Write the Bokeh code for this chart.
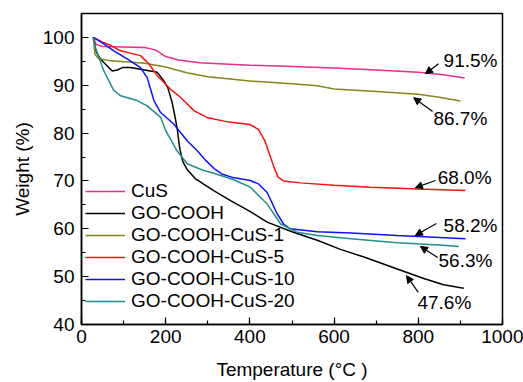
from bokeh.plotting import figure
from bokeh.models import (Range1d, SingleIntervalTicker, Legend, LegendItem, Arrow,
                          NormalHead, ColumnDataSource)
from bokeh.core.properties import value
from bokeh.embed import file_html
from bokeh.resources import INLINE

# ---------------- data ----------------
series_names = ["CuS", "GO-COOH", "GO-COOH-CuS-1", "GO-COOH-CuS-5",
                "GO-COOH-CuS-10", "GO-COOH-CuS-20"]

cus_t = [28, 35, 50, 100, 150, 175, 200, 230, 280, 400, 500, 600, 700, 800, 860, 910]
cus_w = [100, 98.5, 98.1, 98.0, 97.9, 97.4, 96.0, 95.3, 94.7, 94.2, 93.9, 93.6, 93.2, 92.7, 92.2, 91.5]

go_t = [28, 35, 45, 57, 73, 85, 97, 116, 150, 180, 195, 205, 215, 222, 228, 233, 240, 250,
        270, 314, 354, 401, 441, 500, 560, 615, 671, 750, 813, 860, 908]
go_w = [100, 97.0, 95.5, 94.4, 93.0, 93.2, 93.7, 93.7, 93.2, 92.7, 91.0, 89.5, 86.5, 83.5,
        80.5, 77.0, 74.2, 72.5, 70.5, 68.0, 65.9, 63.6, 61.4, 59.4, 57.6, 55.7, 54.1, 51.6,
        49.6, 48.3, 47.6]

c1_t = [28, 32, 40, 70, 150, 200, 250, 300, 400, 500, 560, 600, 700, 800, 850, 900]
c1_w = [100, 96.5, 95.6, 95.1, 94.6, 93.8, 92.6, 91.8, 90.9, 90.3, 89.9, 89.2, 88.7, 88.1, 87.5, 86.7]

c5_t = [28, 50, 70, 93, 140, 160, 180, 211, 235, 267, 300, 350, 400, 420, 435, 445, 457,
        467, 480, 520, 600, 686, 800, 912]
c5_w = [100, 99.0, 98.3, 97.2, 96.2, 94.5, 92.0, 89.2, 87.5, 84.7, 83.2, 82.3, 81.8, 80.8,
        78.5, 76.0, 72.9, 70.8, 70.0, 69.6, 69.1, 68.7, 68.3, 68.0]

c10_t = [28, 50, 77, 116, 140, 156, 172, 188, 219, 251, 275, 295, 315, 335, 360, 401, 420,
         441, 465, 480, 496, 560, 640, 750, 850, 912]
c10_w = [100, 98.8, 97.2, 95.1, 93.7, 91.6, 86.8, 84.3, 81.9, 78.4, 76.3, 74.3, 72.6, 71.4,
         70.7, 70.1, 69.4, 67.6, 63.1, 61.0, 60.0, 59.4, 59.1, 58.6, 58.2, 57.9]

c20_t = [28, 33, 53, 77, 93, 132, 156, 188, 200, 227, 251, 290, 314, 360, 401, 441, 473,
         512, 560, 640, 750, 850, 896]
c20_w = [100, 97.9, 93.0, 88.9, 87.8, 86.8, 85.7, 83.3, 80.5, 76.3, 73.6, 72.2, 71.6, 70.3,
         68.7, 65.2, 61.0, 59.3, 58.6, 57.9, 57.1, 56.6, 56.3]

residue_labels = ["91.5%", "86.7%", "68.0%", "58.2%", "56.3%", "47.6%"]

# ---------------- styling / layout ----------------
colors = ["#EE2A8A", "black", "#85851A", "#FF1010", "#1010FF", "#1F8E8E"]
FONT = "Liberation Sans"
FS = "19px"

p = figure(width=523, height=382, output_backend="svg", toolbar_location=None,
           x_range=Range1d(0, 1000), y_range=Range1d(40, 105),
           min_border_left=81, min_border_right=21, min_border_top=13, min_border_bottom=58)
p.xgrid.visible = False
p.ygrid.visible = False
p.outline_line_color = "black"
p.outline_line_width = 1.5
p.background_fill_color = "white"
p.border_fill_color = "white"

p.xaxis.ticker = SingleIntervalTicker(interval=200, num_minor_ticks=2)
p.yaxis.ticker = SingleIntervalTicker(interval=10, num_minor_ticks=2)
p.xaxis.axis_label = "Temperature (°C )"
p.yaxis.axis_label = "Weight (%)"
for ax in (p.xaxis[0], p.yaxis[0]):
    ax.axis_line_width = 1.5
    ax.major_tick_in = 7
    ax.major_tick_out = 0
    ax.minor_tick_in = 4
    ax.minor_tick_out = 0
    ax.major_tick_line_width = 1.2
    ax.minor_tick_line_width = 1.2
    ax.major_label_text_font = FONT
    ax.major_label_text_font_size = FS
    ax.major_label_text_color = "black"
    ax.axis_label_text_font = FONT
    ax.axis_label_text_font_size = FS
    ax.axis_label_text_font_style = "normal"
    ax.axis_label_text_color = "black"
p.xaxis.major_label_standoff = 5
p.yaxis.major_label_standoff = 7
p.xaxis.axis_label_standoff = 13
p.yaxis.axis_label_standoff = 7

all_t = [cus_t, go_t, c1_t, c5_t, c10_t, c20_t]
all_w = [cus_w, go_w, c1_w, c5_w, c10_w, c20_w]
renderers = []
for t, w, c in zip(all_t, all_w, colors):
    r = p.line(t, w, line_color=c, line_width=1.5)
    renderers.append(r)

legend = Legend(items=[LegendItem(label=n, renderers=[r]) for n, r in zip(series_names, renderers)],
                location=(4, 12), padding=0, margin=0, spacing=0,
                glyph_width=40, glyph_height=22, label_height=22, label_standoff=6,
                label_text_font=FONT, label_text_font_size=FS, label_text_color="black",
                border_line_color=None, background_fill_alpha=0)
p.add_layout(legend, "center")

# ---------------- annotations: label text + arrow to each curve ----------------
text_pos_t = [860, 836, 846, 860, 848, 798]
text_pos_w = [95.1, 83.0, 70.7, 60.7, 53.4, 44.6]
arrow_start = [(848, 94.5), (834, 84.5), (841, 70.1), (843, 61.1), (846, 54.0), (800, 46.7)]
arrow_end = [(817, 92.4), (789, 87.4), (793, 68.6), (793, 58.6), (805, 56.3), (772, 50.2)]

src = ColumnDataSource(dict(x=text_pos_t, y=text_pos_w, text=residue_labels))
p.text(x="x", y="y", text="text", source=src, text_font=value(FONT), text_font_size=FS,
       text_align="left", text_baseline="middle", text_color="black")
for (x0, y0), (x1, y1) in zip(arrow_start, arrow_end):
    p.add_layout(Arrow(end=NormalHead(size=7, fill_color="black", line_color="black", line_width=1),
                       x_start=x0, y_start=y0, x_end=x1, y_end=y1,
                       line_color="black", line_width=1.2))

open("out.html", "w").write(file_html(p, INLINE))
